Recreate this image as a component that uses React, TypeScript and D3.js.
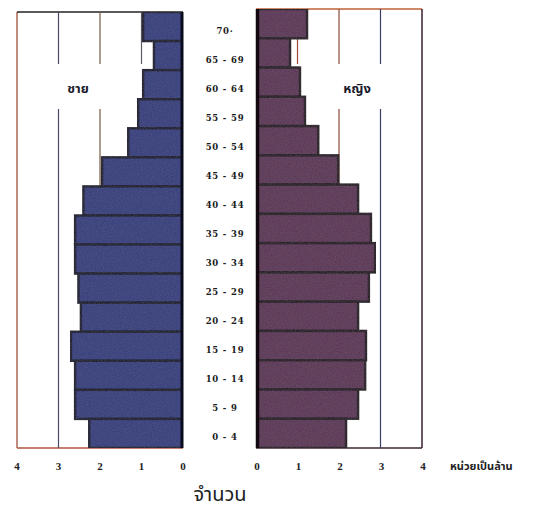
import React from "react";
import * as d3 from "d3";

const ageGroups = ["70+", "65-69", "60-64", "55-59", "50-54", "45-49", "40-44", "35-39", "30-34", "25-29", "20-24", "15-19", "10-14", "5-9", "0-4"];
const maleValues = [0.96, 0.7, 0.96, 1.08, 1.32, 1.95, 2.4, 2.6, 2.6, 2.52, 2.46, 2.7, 2.6, 2.6, 2.26];
const femaleValues = [1.23, 0.82, 1.06, 1.18, 1.5, 1.98, 2.46, 2.77, 2.87, 2.72, 2.46, 2.65, 2.63, 2.46, 2.17];
const tickValues = [0, 1, 2, 3, 4];
const maleLabel = "ชาย";
const femaleLabel = "หญิง";
const unitLabel = "หน่วยเป็นล้าน";
const axisTitle = "จำนวน";

const W = 554;
const H = 528;

export default function App() {
  const xL = d3.scaleLinear().domain([0, 4]).range([183, 17]);
  const xR = d3.scaleLinear().domain([0, 4]).range([256, 422]);
  const yL = d3.scaleBand<string>().domain(ageGroups).range([12, 448]).padding(0);
  const yR = d3.scaleBand<string>().domain(ageGroups).range([9, 448]).padding(0);
  const yLab = d3.scaleBand<string>().domain(ageGroups).range([17, 452]).padding(0);

  const gapTop = 64;
  const gapBottom = 109;
  const bottom = 448;
  const maleFill = "#323a7c";
  const femaleFill = "#5a3252";
  const serif = "'Liberation Serif', 'DejaVu Serif', serif";
  const thai = "'Noto Sans Thai', 'Noto Sans', 'DejaVu Sans', sans-serif";

  const gridColorsL: Record<number, string> = { 1: "#5a5a6a", 2: "#7a5a40", 3: "#4a4a68" };
  const gridColorsR: Record<number, string> = { 1: "#a04a38", 2: "#8a4a3a", 3: "#3a3f66" };

  return (
    <svg width={W} height={H} style={{ display: "block", position: "absolute", left: 0, top: 0, background: "#fff" }}>
      <defs>
        <filter id="grain" x="0" y="0" width="100%" height="100%">
          <feTurbulence type="fractalNoise" baseFrequency="0.8" numOctaves="2" seed="3" result="n" />
          <feColorMatrix in="n" type="matrix" values="0 0 0 0 0.5  0 0 0 0 0.5  0 0 0 0 0.55  0 0 0 0.1 0" result="g" />
          <feComposite in="g" in2="SourceGraphic" operator="in" result="gi" />
          <feMerge>
            <feMergeNode in="SourceGraphic" />
            <feMergeNode in="gi" />
          </feMerge>
        </filter>
      </defs>

      {/* Left panel frame */}
      <line x1={xL(4)} y1={yL.range()[0]} x2={xL(4)} y2={bottom} stroke="#a0503a" strokeWidth={1.3} />
      <line x1={xL(4)} y1={yL.range()[0]} x2={xL(0)} y2={yL.range()[0]} stroke="#222" strokeWidth={1.5} />
      <line x1={xL(4)} y1={bottom} x2={xL(0)} y2={bottom} stroke="#b0563c" strokeWidth={1.3} />
      {tickValues.filter((t) => t > 0 && t < 4).map((t) => (
        <g key={"gl" + t}>
          <line x1={xL(t)} x2={xL(t)} y1={yL.range()[0]} y2={gapTop} stroke={gridColorsL[t]} strokeWidth={1.2} />
          <line x1={xL(t)} x2={xL(t)} y1={gapBottom} y2={bottom} stroke={gridColorsL[t]} strokeWidth={1.2} />
        </g>
      ))}

      {/* Right panel frame */}
      <line x1={xR(0)} y1={yR.range()[0]} x2={xR(4)} y2={yR.range()[0]} stroke="#c0603a" strokeWidth={1.3} />
      <line x1={xR(4)} y1={yR.range()[0]} x2={xR(4)} y2={bottom} stroke="#3a2030" strokeWidth={1.5} />
      <line x1={xR(0)} y1={bottom} x2={xR(4)} y2={bottom} stroke="#3a2a30" strokeWidth={1.3} />
      {tickValues.filter((t) => t > 0 && t < 4).map((t) => (
        <g key={"gr" + t}>
          <line x1={xR(t)} x2={xR(t)} y1={yR.range()[0]} y2={gapTop} stroke={gridColorsR[t]} strokeWidth={1.2} />
          <line x1={xR(t)} x2={xR(t)} y1={gapBottom} y2={bottom} stroke={gridColorsR[t]} strokeWidth={1.2} />
        </g>
      ))}

      {/* Male bars */}
      <g filter="url(#grain)">
        {ageGroups.map((a, i) => (
          <rect key={"m" + a} x={xL(maleValues[i])} y={yL(a)!} width={xL(0) - xL(maleValues[i])} height={yL.bandwidth()}
            fill={maleFill} stroke="#0e1026" strokeWidth={2.4} />
        ))}
      </g>
      <line x1={xL(0) - 1} x2={xL(0) - 1} y1={yL.range()[0]} y2={bottom} stroke="#0a0b1c" strokeWidth={3} />
      {/* Female bars */}
      <g filter="url(#grain)">
        {ageGroups.map((a, i) => (
          <rect key={"f" + a} x={xR(0)} y={yR(a)!} width={xR(femaleValues[i]) - xR(0)} height={yR.bandwidth()}
            fill={femaleFill} stroke="#1a0a16" strokeWidth={2.4} />
        ))}
      </g>
      <line x1={xR(0) + 1.5} x2={xR(0) + 1.5} y1={yR.range()[0]} y2={bottom} stroke="#140810" strokeWidth={3.5} />

      {/* Age labels */}
      {ageGroups.map((a) => (
        <text key={"l" + a} x={225} y={yLab(a)! + yLab.bandwidth() / 2} dy="0.35em" textAnchor="middle"
          fontFamily="'DejaVu Serif', serif" fontWeight="bold" fontSize={8.5} letterSpacing={0.8} fill="#1a1a1a">
          {a.replace("-", " - ").replace("+", "·")}
        </text>
      ))}

      {/* Series labels */}
      <text x={78} y={88} dy="0.35em" textAnchor="middle" fontFamily={thai} fontWeight="bold" fontSize={13} fill="#1a1a2a">{maleLabel}</text>
      <text x={357} y={88} dy="0.35em" textAnchor="middle" fontFamily={thai} fontWeight="bold" fontSize={13} fill="#1a1a2a">{femaleLabel}</text>

      {/* Tick labels */}
      {tickValues.map((t) => (
        <text key={"tl" + t} x={xL(t)} y={466} dy="0.35em" textAnchor="middle" fontFamily={serif} fontWeight="bold" fontSize={11} fill="#222">{t}</text>
      ))}
      {tickValues.map((t) => (
        <text key={"tr" + t} x={xR(t) + 1} y={466} dy="0.35em" textAnchor="middle" fontFamily={serif} fontWeight="bold" fontSize={11} fill="#222">{t}</text>
      ))}
      <text x={450} y={466} dy="0.35em" textAnchor="start" fontFamily={thai} fontWeight="bold" fontSize={11} fill="#222">{unitLabel}</text>
      <text x={220} y={494} dy="0.35em" textAnchor="middle" fontFamily={thai} fontSize={20} fill="#222">{axisTitle}</text>
    </svg>
  );
}
